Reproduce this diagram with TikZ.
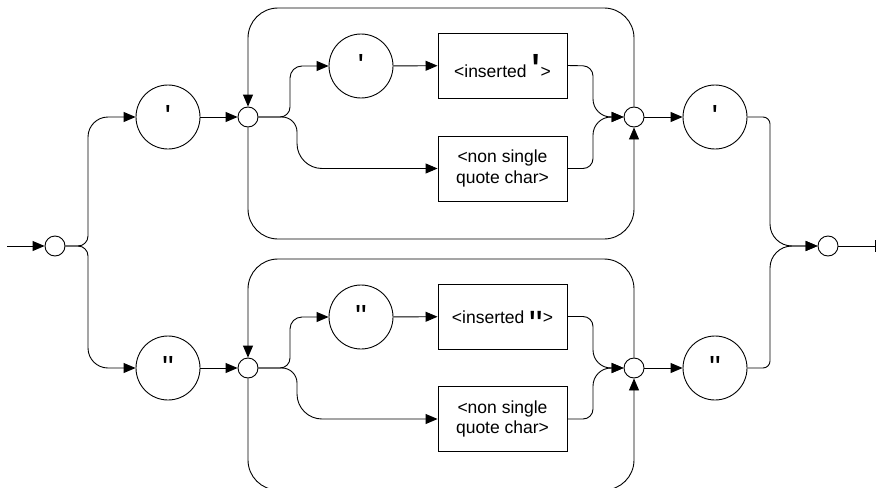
\documentclass[tikz,border=0pt]{standalone}
\usepackage{fontspec}
\newfontfamily\arial{Liberation Sans}
\usetikzlibrary{arrows.meta}
\newcommand\qc[1]{{\fontsize{32}{32}\selectfont\raisebox{0pt}[20pt][0pt]{#1}}}
\newcommand\qsbig{\raisebox{-10.5pt}[24pt][0pt]{\fontsize{48}{48}\selectfont'}}
\newcommand\qdbig{\raisebox{-13.8pt}[14pt][0pt]{\fontsize{38}{38}\selectfont"}}
\begin{document}
\begin{tikzpicture}[x=1pt,y=-1pt,line width=0.9pt,
  >={Triangle[length=12pt,width=10pt]},
  every node/.style={font=\arial\fontsize{17.5}{20.5}\selectfont},
  dot/.style={draw,circle,minimum size=20pt,inner sep=0pt},
  term/.style={draw,circle,minimum size=64pt,inner sep=0pt},
  nonterm/.style={draw,rectangle,minimum width=129pt,minimum height=65pt,inner sep=0pt,align=center},
  loopline/.style={->,rounded corners=30pt},
  endbar/.style={-{Bar[width=12pt]}}]
\useasboundingbox (0,0) rectangle (877,487);

% nodes
\coordinate (start) at (7,246);
\node[dot] (s0) at (55,246) {};
\node[term] (A1) at (168,117) {\qc{'}};
\node[term] (B1) at (168,368) {\qc{"}};
\node[dot] (L1) at (248,117) {};
\node[dot] (L2) at (248,368) {};
\node[term] (A2) at (361,66) {\qc{'}};
\node[term] (B2) at (361,317) {\qc{"}};
\node[nonterm] (A3) at (502.5,65.5) {<inserted \qsbig>};
\node[nonterm] (B3) at (502.5,316.5) {<inserted \qdbig>};
\node[nonterm] (A4) at (502.5,168.5) {<non single\\quote char>};
\node[nonterm] (B4) at (502.5,419) {<non single\\quote char>};
\node[dot] (R1) at (634,117) {};
\node[dot] (R2) at (634,368) {};
\node[term] (A5) at (715,117) {\qc{'}};
\node[term] (B5) at (715,368) {\qc{"}};
\node[dot] (E) at (828,246) {};
\coordinate (finish) at (876,246);

% entry
\draw[->] (start) -- (s0);
\draw[->] (s0.east) [rounded corners=10pt] -- (88,246) [rounded corners=20pt] -- (88,117) -- (A1.west);
\draw[->] (s0.east) [rounded corners=10pt] -- (88,246) [rounded corners=20pt] -- (88,368) -- (B1.west);
\draw[->] (A1) -- (L1);
\draw[->] (B1) -- (L2);

% upper group
\draw[->] (L1.east) [rounded corners=10pt] -- (290,117) [rounded corners=12pt] -- (290,66) -- (A2.west);
\draw[->] (L1.east) [rounded corners=15pt] -- (297,117) [rounded corners=25pt] -- (297,168.5) -- (A4.west);
\draw[->] (A2) -- (A3);
\draw[->] (A3.east) [rounded corners=10pt] -- (593,66) [rounded corners=18pt] -- (593,117) -- (R1.west);
\draw[->] (A4.east) [rounded corners=10pt] -- (593,168.5) [rounded corners=18pt] -- (593,117) -- (R1.west);
\draw[loopline] (R1.north) -- (634,8) -- (248,8) -- (L1.north);
\draw[loopline] (L1.south) -- (248,239) -- (634,239) -- (R1.south);
\draw[->] (R1) -- (A5);

% lower group
\draw[->] (L2.east) [rounded corners=10pt] -- (290,368) [rounded corners=12pt] -- (290,317) -- (B2.west);
\draw[->] (L2.east) [rounded corners=15pt] -- (297,368) [rounded corners=25pt] -- (297,419) -- (B4.west);
\draw[->] (B2) -- (B3);
\draw[->] (B3.east) [rounded corners=10pt] -- (593,316.5) [rounded corners=18pt] -- (593,368) -- (R2.west);
\draw[->] (B4.east) [rounded corners=10pt] -- (593,419) [rounded corners=18pt] -- (593,368) -- (R2.west);
\draw[loopline] (R2.north) -- (634,259) -- (248,259) -- (L2.north);
\draw[loopline] (L2.south) -- (248,490) -- (634,490) -- (R2.south);
\draw[->] (R2) -- (B5);

% exit
\draw[->] (A5.east) [rounded corners=7pt] -- (770,117) [rounded corners=22pt] -- (770,246) -- (E.west);
\draw[->] (B5.east) [rounded corners=7pt] -- (770,368) [rounded corners=22pt] -- (770,246) -- (E.west);
\draw[endbar] (E) -- (finish);
\end{tikzpicture}
\end{document}
